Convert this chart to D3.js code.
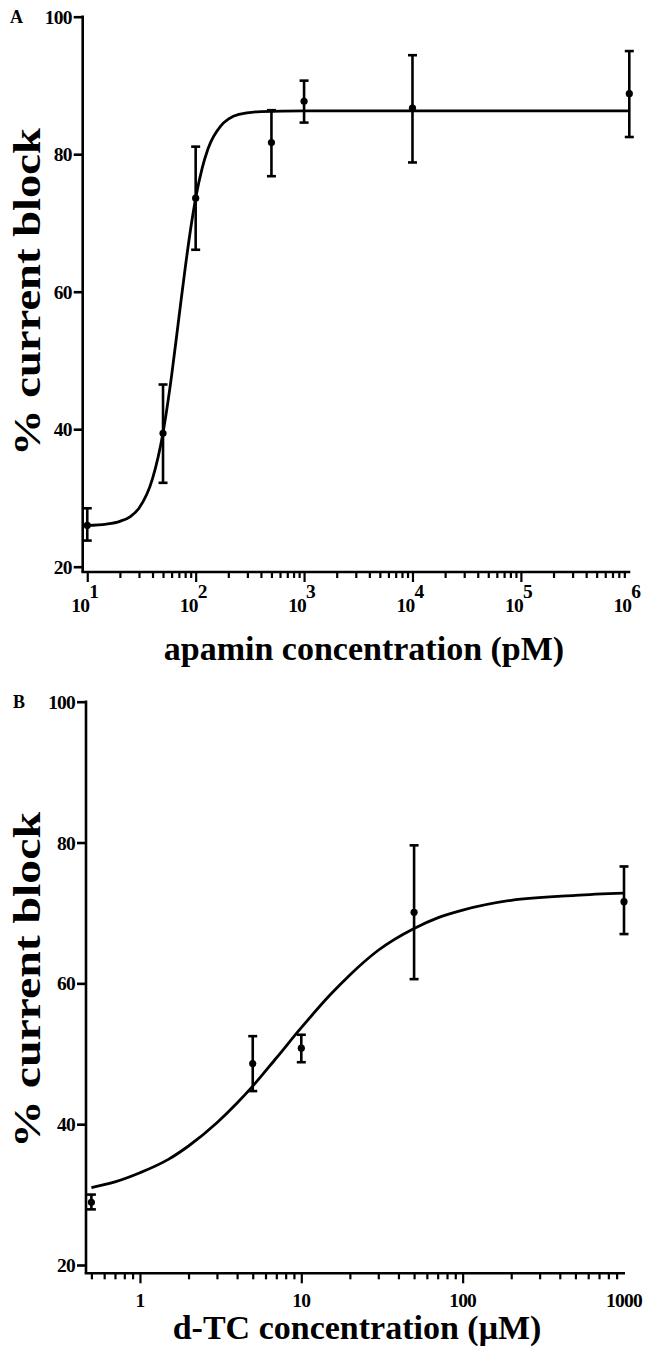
<!DOCTYPE html>
<html>
<head>
<meta charset="utf-8">
<script src="https://cdn.jsdelivr.net/npm/d3@7"></script>
<style>
  html, body { margin: 0; padding: 0; background: #fff; }
  svg { display: block; }
  text { font-family: "Liberation Serif", "Times New Roman", serif; font-weight: bold; fill: #000; }
</style>
</head>
<body>
<svg id="chart" width="647" height="1347"></svg>
<script>
// ---------- Panel A data (apamin, pM) ----------
const apaminConc = [10, 50, 100, 500, 1000, 10000, 1000000];
const apaminBlock = [26.0, 39.4, 73.6, 81.7, 87.7, 86.7, 88.8];
const apaminErrLow = [23.8, 32.2, 66.1, 76.8, 84.6, 78.8, 82.5];
const apaminErrHigh = [28.5, 46.5, 81.1, 86.4, 90.7, 94.4, 95.0];
// fitted curve
const apaminCurveX = [10, 15, 20, 25, 30, 40, 50, 60, 70, 80, 90, 100, 115, 130, 170, 200, 250, 400, 1000, 1000000];
const apaminCurveY = [26.0, 26.2, 26.6, 27.3, 28.5, 32.8, 39.5, 47.8, 56.2, 63.4, 69.2, 73.6, 78.0, 80.8, 84.1, 85.1, 85.8, 86.2, 86.3, 86.3];
const apaminMajorTicks = [10, 100, 1000, 10000, 100000, 1000000];
const apaminTickExp = ["1", "2", "3", "4", "5", "6"];

// ---------- Panel B data (d-TC, µM) ----------
const dtcConc = [0.5, 5, 10, 50, 1000];
const dtcBlock = [28.9, 48.6, 50.8, 70.1, 71.6];
const dtcErrLow = [27.9, 44.7, 48.8, 60.6, 67.0];
const dtcErrHigh = [30.0, 52.5, 52.7, 79.6, 76.6];
const dtcCurveX = [0.5, 0.7, 1, 1.5, 2, 3, 4, 5, 7, 10, 15, 20, 30, 50, 70, 100, 200, 500, 1000];
const dtcCurveY = [31.0, 31.8, 33.1, 35.0, 36.9, 40.2, 43.0, 45.4, 49.4, 53.7, 58.3, 61.2, 64.7, 67.8, 69.3, 70.4, 71.8, 72.5, 72.8];
const dtcMajorTicks = [1, 10, 100, 1000];
const dtcTickLabels = ["1", "10", "100", "1000"];

const yTicks = [20, 40, 60, 80, 100];

const svg = d3.select("#chart");
const LW = 2.6;

function minorTicks(lo, hi) {
  const out = [];
  for (let d = Math.floor(Math.log10(lo)); d < Math.ceil(Math.log10(hi)); d++) {
    for (let m = 1; m <= 9; m++) {
      const v = m * Math.pow(10, d);
      if (v >= lo * 0.999 && v <= hi * 1.001) out.push(v);
    }
  }
  return out;
}

function panel(cfg) {
  const g = svg.append("g");
  const x = d3.scaleLog().domain(cfg.xDomain).range(cfg.xRange);
  const y = d3.scaleLinear().domain([20, 100]).range(cfg.yRange);
  const axisY = cfg.axisY;   // y position of the x-axis line
  const axisX = cfg.xRange[0];

  // y axis
  const ya = g.append("g").attr("transform", `translate(${axisX},0)`)
    .call(d3.axisLeft(y).tickValues(yTicks).tickSize(9).tickSizeOuter(0).tickPadding(2));
  ya.select(".domain").remove();
  ya.selectAll(".tick line").attr("stroke", "#000").attr("stroke-width", LW);
  ya.selectAll(".tick text").attr("font-size", 19.5).attr("font-family", "Liberation Serif").attr("font-weight", "bold")
    .attr("letter-spacing", -0.8).attr("dy", "0.34em");
  g.append("line").attr("x1", axisX).attr("x2", axisX).attr("y1", y(100) - LW / 2).attr("y2", axisY)
    .attr("stroke", "#000").attr("stroke-width", LW);

  // x axis
  const all = minorTicks(cfg.xDomain[0], cfg.xDomain[1]);
  const majors = new Set(cfg.majors);
  const xa = g.append("g").attr("transform", `translate(0,${axisY})`)
    .call(d3.axisBottom(x).tickValues(all).tickFormat("").tickSizeOuter(0));
  xa.select(".domain").remove();
  xa.selectAll(".tick line")
    .attr("stroke", "#000").attr("stroke-width", 2.2)
    .attr("y2", d => majors.has(d) ? 10 : 6);
  g.append("line").attr("x1", axisX - LW / 2).attr("x2", x(cfg.xDomain[1]) + 1).attr("y1", axisY).attr("y2", axisY)
    .attr("stroke", "#000").attr("stroke-width", LW);

  // curve
  const line = d3.line().x(d => x(d[0])).y(d => y(d[1])).curve(d3.curveMonotoneX);
  g.append("path").datum(d3.zip(cfg.curveX, cfg.curveY)).attr("d", line)
    .attr("fill", "none").attr("stroke", "#000").attr("stroke-width", 2.8);

  // error bars + points
  const pts = cfg.xs.map((v, i) => ({ x: v, y: cfg.ys[i], lo: cfg.lo[i], hi: cfg.hi[i] }));
  const eb = g.append("g");
  pts.forEach(p => {
    const cx = x(p.x);
    eb.append("line").attr("x1", cx).attr("x2", cx).attr("y1", y(p.hi)).attr("y2", y(p.lo))
      .attr("stroke", "#000").attr("stroke-width", LW);
    [p.hi, p.lo].forEach(v => {
      eb.append("line").attr("x1", cx - 4.5).attr("x2", cx + 4.5).attr("y1", y(v)).attr("y2", y(v))
        .attr("stroke", "#000").attr("stroke-width", LW);
    });
    eb.append("circle").attr("cx", cx).attr("cy", y(p.y)).attr("r", 3.6).attr("fill", "#000");
  });

  // y title
  g.append("text").attr("transform", `translate(${cfg.yTitleX},${cfg.yTitleMid}) rotate(-90)`)
    .attr("text-anchor", "middle").attr("font-size", cfg.yTitleSize)
    .attr("textLength", cfg.yTitleLen).attr("lengthAdjust", "spacingAndGlyphs")
    .text("% current block");

  // panel letter
  g.append("text").attr("x", cfg.letterX).attr("y", y(100) + 6).attr("font-size", 18).text(cfg.letter);

  return { g, x, y };
}

// ---------- Panel A ----------
const A = panel({
  xDomain: [Math.pow(10, 0.958), 1e6], xRange: [82.7, 629.3],
  yRange: [566.7, 16.7], axisY: 572,
  majors: apaminMajorTicks,
  curveX: apaminCurveX, curveY: apaminCurveY,
  xs: apaminConc, ys: apaminBlock, lo: apaminErrLow, hi: apaminErrHigh,
  yTitleX: 40, yTitleMid: 292, yTitleSize: 38, yTitleLen: 328, letter: "A", letterX: 10
});
apaminMajorTicks.forEach((v, i) => {
  const tx = A.x(v);
  A.g.append("text").attr("x", tx + 2).attr("y", 612).attr("text-anchor", "end").attr("font-size", 19.5)
    .attr("letter-spacing", -0.8).text("10");
  A.g.append("text").attr("x", tx + 2).attr("y", 598).attr("text-anchor", "start").attr("font-size", 19.5)
    .text(apaminTickExp[i]);
});
A.g.append("text").attr("x", 364).attr("y", 660).attr("text-anchor", "middle").attr("font-size", 34)
  .text("apamin concentration (pM)");

// ---------- Panel B ----------
const B = panel({
  xDomain: [0.463, 1000], xRange: [86, 624],
  yRange: [1265, 701.7], axisY: 1273.3,
  majors: dtcMajorTicks,
  curveX: dtcCurveX, curveY: dtcCurveY,
  xs: dtcConc, ys: dtcBlock, lo: dtcErrLow, hi: dtcErrHigh,
  yTitleX: 40, yTitleMid: 980, yTitleSize: 38, yTitleLen: 336, letter: "B", letterX: 13
});
dtcMajorTicks.forEach((v, i) => {
  B.g.append("text").attr("x", B.x(v)).attr("y", 1307).attr("text-anchor", "middle").attr("font-size", 19.5)
    .attr("letter-spacing", -0.8).text(dtcTickLabels[i]);
});
B.g.append("text").attr("x", 357).attr("y", 1339).attr("text-anchor", "middle").attr("font-size", 34)
  .text("d-TC concentration (\u03BCM)");
</script>
</body>
</html>
